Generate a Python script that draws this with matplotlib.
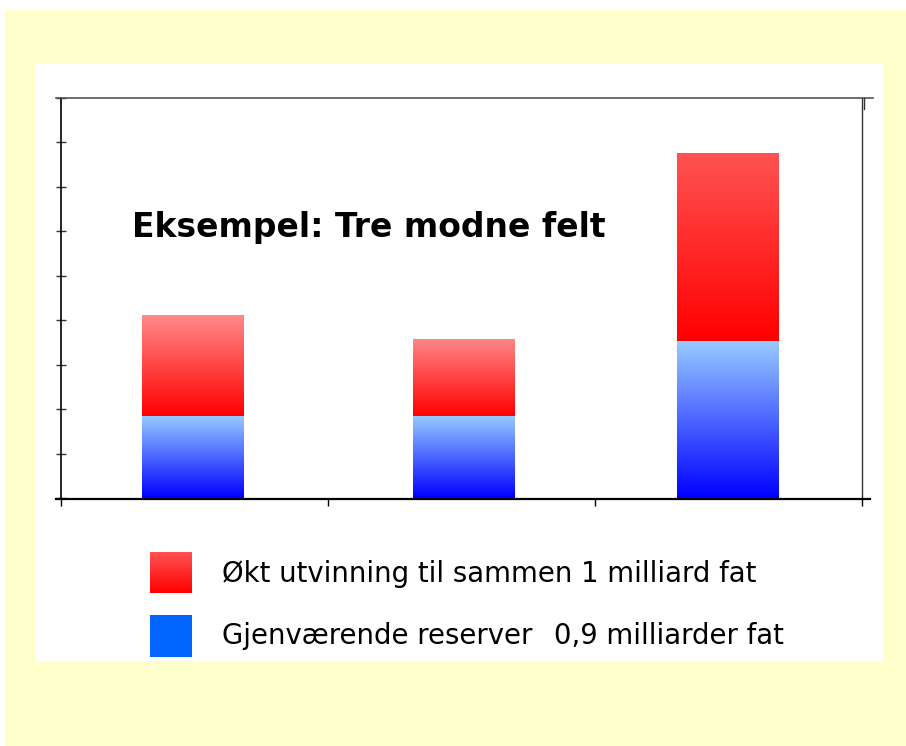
import numpy as np
import matplotlib
matplotlib.use("Agg")
import matplotlib.pyplot as plt
from matplotlib.patches import Rectangle
from matplotlib.lines import Line2D
from matplotlib.colors import to_rgb

# ---- data ----
fields = ["Felt 1", "Felt 2", "Felt 3"]
remaining = [1.85, 1.85, 3.54]        # Gjenværende reserver
increased = [2.27, 1.73, 4.23]        # Økt utvinning
title = "Eksempel: Tre modne felt"
legend_labels = ["Økt utvinning til sammen 1 milliard fat",
                 "Gjenværende reserver"]
legend_amounts = ["", "0,9 milliarder fat"]
yticks = list(range(0, 10))

# ---- style ----
W, H = 906, 746
red_tops = ["#FF8A8A", "#FF8686", "#FF5252"]
red_bottom = "#FF0000"
blue_top = "#99CCFF"
blue_bottom = "#0000FF"
bar_width = 0.38
bar_shift = [-0.006, 0.009, -0.004]


def fx(px):
    return px / W


def fy(py):
    return 1 - py / H


fig = plt.figure(figsize=(W / 100, H / 100), dpi=100, facecolor="white")
# yellow background and white panel
fig.patches.append(Rectangle((fx(5), 0), 1 - fx(5), fy(10), transform=fig.transFigure,
                             facecolor="#FFFFCC", edgecolor="none", zorder=-2))
fig.patches.append(Rectangle((fx(35), fy(661)), fx(883) - fx(35), fy(64) - fy(661),
                             transform=fig.transFigure, facecolor="white",
                             edgecolor="none", zorder=-1))

ax = fig.add_axes([fx(61), fy(498), fx(862) - fx(61), fy(98) - fy(498)])
ax.set_facecolor("none")
ax.set_zorder(2)


def grad(top, bottom, n=256):
    t = np.linspace(0, 1, n)[:, None, None]
    a = np.array(to_rgb(top))[None, None, :]
    b = np.array(to_rgb(bottom))[None, None, :]
    return a * (1 - t) + b * t


x = np.arange(len(fields))
for i in range(len(fields)):
    segs = [(0, remaining[i], blue_top, blue_bottom),
            (remaining[i], increased[i], red_tops[i], red_bottom)]
    for b0, h, ct, cb in segs:
        bars = ax.bar(x[i] + bar_shift[i], h, bottom=b0, width=bar_width, color="none",
                      edgecolor="none", zorder=2)
        p = bars.patches[0]
        im = ax.imshow(grad(ct, cb), extent=[p.get_x(), p.get_x() + p.get_width(),
                                             b0, b0 + h],
                       aspect="auto", origin="upper", zorder=2, interpolation="bilinear")
        im.set_clip_path(p)

ax.set_xlim(-0.5, 2.5)
ax.set_ylim(0, 9)
ax.set_xticks([-0.5, 0.5, 1.5, 2.5])
ax.set_xticklabels([])
ax.set_yticks(yticks)
ax.set_yticklabels([])
ax.tick_params(axis="x", direction="out", length=6, width=1, color="black")
ax.tick_params(axis="y", direction="inout", length=7.5, width=1, color="#333333")
ax.spines["left"].set_color("black")
ax.spines["left"].set_linewidth(1.2)
ax.spines["bottom"].set_visible(False)
ax.spines["top"].set_visible(False)
ax.spines["right"].set_color("#333333")
ax.spines["right"].set_linewidth(1.0)

# frame lines extending beyond axes
fig.lines.append(Line2D([fx(56), fx(873)], [fy(98), fy(98)], transform=fig.transFigure,
                        color="#555555", linewidth=1.2, zorder=5))
fig.lines.append(Line2D([fx(56), fx(870)], [fy(498.5), fy(498.5)], transform=fig.transFigure,
                        color="black", linewidth=1.6, zorder=5))
fig.lines.append(Line2D([fx(864), fx(864)], [fy(98), fy(109)], transform=fig.transFigure,
                        color="#333333", linewidth=1.0, zorder=5))

ax.text(0.0887, 0.675, title, transform=ax.transAxes, fontsize=23.8, fontweight="bold",
        family="DejaVu Sans", va="center", ha="left", color="black")

# legend
lax1 = fig.add_axes([fx(150), fy(593), fx(192) - fx(150), fy(552) - fy(593)])
lax1.imshow(grad("#FF5252", "#FF0000"), aspect="auto", extent=[0, 1, 0, 1])
lax1.axis("off")
lax1.set_zorder(2)
lax2 = fig.add_axes([fx(150), fy(657), fx(192) - fx(150), fy(615) - fy(657)])
lax2.add_patch(Rectangle((0, 0), 1, 1, facecolor="#0066FF", edgecolor="none"))
lax2.set_xlim(0, 1)
lax2.set_ylim(0, 1)
lax2.axis("off")
lax2.set_zorder(2)

for yy, lab, amt in zip([574, 636], legend_labels, legend_amounts):
    fig.text(fx(222), fy(yy), lab, fontsize=19.8, va="center", ha="left",
             family="DejaVu Sans", color="black", zorder=5)
    if amt:
        fig.text(fx(554), fy(yy), amt, fontsize=19.8, va="center", ha="left",
                 family="DejaVu Sans", color="black", zorder=5)

fig.savefig("out.png", dpi=100, facecolor="white")
